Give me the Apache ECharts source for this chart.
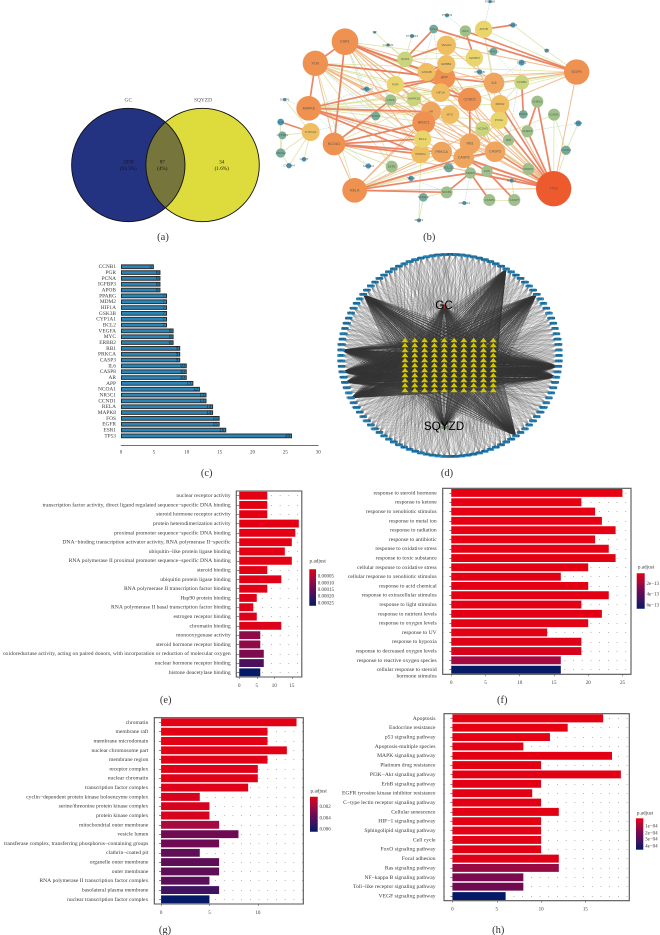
<!DOCTYPE html>
<html><head><meta charset="utf-8">
<style>html,body{margin:0;padding:0;background:#fff}#c{width:660px;height:935px;filter:blur(0.4px)}</style>
<script src="https://cdn.jsdelivr.net/npm/echarts@6/dist/echarts.min.js"></script>
</head><body><div id="c"></div>
<script>
/* ---------- panel (a) ---------- */
const vennCircles=[[128.3,165,56.7,'#243282'],[202.6,165,56.7,'#DEDB3C']];
const vennLabels=[['GC',128.3,100],['SQYZD',203,100],['2039',128.3,162],['(94.3%)',128.3,168.5],['87',162.3,162],['(4%)',162.3,168.5],['34',221.7,162],['(1.6%)',221.7,168.5]];
/* ---------- panel (b): name, x, y, radius ---------- */
const ppiNodes=[['ESR1',345,125,40],['FOS',256,190,38],['MAPK8',236,325,37],['NCOA1',312,432,34],['RELA',374,571,37],['TP53',971,566,53],['EGFR',1040,216,38],['CCND1',719,298,35],['AR',603,335,30],['NR3C1',581,368,34],['APP',643,233,33],['IL6',792,249,31],['CASP8',701,473,31],['CASP3',795,455,31],['RB1',720,431,31],['PRKCA',635,456,31],['PPARG',572,462,28],['MDM2',810,313,28],['BCL2',578,417,26],['MYC',660,344,28],['GSK3B',590,216,27],['ERBB2',649,192,27],['VEGFA',649,136,29],['IGFBP3',733,174,26],['APOB',761,88,26],['HIF1A',632,278,28],['PGR',496,254,26],['PCNA',807,361,26],['CCNB1',875,247,22],['NOS3',525,178,23],['CYP1A1',242,396,27],['MAPK10',552,296,22],['IGF2',706,93,17],['CCL2',611,87,13],['CDK6',482,300,17],['NCOA2',437,348,13],['NCOA3',758,386,22],['BID',836,420,17],['CHEK1',922,305,18],['BIRC5',880,343,13],['CHEK2',892,394,18],['ICAM1',972,344,18],['VCAM1',1008,451,14],['HSF1',1045,370,9],['PARP1',895,507,18],['CASP7',853,600,18],['CASP9',778,600,18],['FAS',771,514,17],['MMP9',721,519,17],['BCL2L1',656,503,14],['NFKB1',650,577,18],['ESR2',485,500,18],['NFE2L2',580,592,13],['SELE',543,535,8],['SLC2A4',415,498,8],['MMP1',567,661,6],['COL3A1',703,609,6],['BIRC2',845,542,6],['TNF',950,152,6],['DAPK1',875,188,9],['MDM4',849,75,8],['PRKCD',790,155,12],['PRKCB',749,216,8],['PSMB8',780,5,5],['PSMD3',651,46,6],['IL2',434,97,4],['PTGER3',546,108,6],['CHRM2',474,135,5],['GPBAR1',410,267,8],['GSTP1',164,299,5],['AHR',152,366,10],['CYP1B1',157,406,12],['ABCG2',152,459,14],['CYP3A4',177,497,8],['COMT',222,478,7]];
const ppiStrong='ESR1-FOS ESR1-NCOA1 FOS-MAPK8 RELA-NFKB1 RELA-MMP9 NFKB1-MMP9 TP53-CASP8 TP53-CASP3 TP53-MDM2 TP53-CHEK1 TP53-CHEK2 TP53-PCNA CASP8-MMP9 CASP8-FAS MMP9-CASP9 FAS-CASP7 CYP1A1-AHR APOB-MDM4 EGFR-CCL2 EGFR-IGF2 NOS3-VEGFA NOS3-CCL2 IGF2-IGFBP3 NCOA1-NR3C1 NCOA1-BCL2 NCOA1-PPARG NCOA1-CDK6 NCOA1-PRKCA CCND1-RB1 CCNB1-BIRC5 CHEK1-CHEK2 ESR1-APP ESR1-GSK3B ESR1-CCND1 FOS-APP FOS-IL6 MAPK8-PPARG MAPK8-BCL2 MAPK8-APP MAPK8-AR PGR-APP MDM2-PCNA RELA-CASP8 CASP8-CASP3 ERBB2-GSK3B CCND1-HIF1A TP53-MMP9 TP53-FAS';
const ppiMedium='ESR1-PPARG ESR1-RB1 ESR1-TP53 ESR1-CASP8 FOS-CASP3 FOS-PRKCA FOS-RB1 MAPK8-TP53 MAPK8-CASP3 EGFR-IL6 EGFR-APP EGFR-TP53 EGFR-MDM2 RELA-CASP3 RELA-PRKCA RELA-AR RELA-NR3C1 RELA-PCNA RELA-TP53 NR3C1-TP53 AR-CASP3 APP-CASP3 APP-TP53 CCND1-TP53 IL6-TP53 HIF1A-TP53 MYC-TP53 RB1-TP53 PRKCA-TP53 PCNA-CASP8 CCND1-CASP3 NCOA1-RELA FOS-NCOA1 ESR1-AR ESR1-IL6 FOS-NR3C1 FOS-MYC MAPK8-MYC NCOA1-TP53 VEGFA-APP VEGFA-IL6 IGFBP3-PCNA PGR-AR PGR-CCND1 EGFR-VEGFA GSK3B-TP53 ERBB2-CCND1';
const ppiPale='NCOA1-ESR2 FOS-PGR ESR1-MAPK10 MAPK8-HIF1A MAPK8-MDM2 MAPK8-CCND1 APOB-EGFR APOB-IL6 TNF-EGFR TNF-MDM4 VCAM1-ICAM1 VCAM1-HSF1 VCAM1-TP53 CYP1A1-CYP1B1 ABCG2-CYP1A1 CYP3A4-CYP1A1 COMT-CYP1A1 GSTP1-CYP1A1 ABCG2-CYP1B1 ABCG2-AHR ABCG2-CYP3A4 IL2-NOS3 CHRM2-NOS3 PTGER3-NOS3 SLC2A4-NCOA1 NFE2L2-MMP1 NFE2L2-NFKB1 CASP7-CASP9 BIRC2-CASP7 CCNB1-EGFR CCNB1-MDM2 ICAM1-TP53 ICAM1-RELA NCOA3-RB1 NCOA3-TP53 BID-TP53 BID-CASP8 PARP1-TP53 PARP1-CASP3 ESR2-RELA ESR2-NCOA1 ESR1-PARP1 FOS-BCL2L1 NOS3-PGR NOS3-IGFBP3 FOS-ESR2 FOS-RELA MAPK10-AR ESR1-MDM2 FOS-EGFR MAPK8-EGFR APOB-NOS3 IGF2-VEGFA APOB-PCNA EGFR-CDK6 EGFR-PGR MAPK8-NCOA3 RELA-BCL2L1 RELA-SELE PPARG-MMP1 ESR1-ESR2 ESR1-IGFBP3 ESR1-MDM2 FOS-CCND1 FOS-HIF1A MAPK8-PCNA MAPK8-IL6 NCOA1-MYC NCOA1-HIF1A NCOA1-ERBB2 ESR1-BCL2 FOS-AR EGFR-CCND1 EGFR-HIF1A';
const ppiThin='PSMB8-APOB PSMD3-IGF2 COL3A1-MMP9 GSTP1-MAPK8 CYP1A1-NCOA2 GPBAR1-MAPK8 CCL2-NOS3 FOS-GPBAR1 ESR1-GPBAR1 CCL2-MAPK10 PRKCB-IL6 DAPK1-BID PRKCD-CCNB1 NCOA2-FOS SELE-NFKB1 SLC2A4-MAPK8 DAPK1-CCND1 CCL2-HIF1A BID-CCND1 HSF1-CHEK2 FOS-NCOA2 CDK6-ESR1 ESR1-NCOA2';
/* ---------- panel (c) ---------- */
const hubGenes=['CCNB1','PGR','PCNA','IGFBP3','APOB','PPARG','MDM2','HIF1A','GSK3B','CYP1A1','BCL2','VEGFA','MYC','ERBB2','RB1','PRKCA','CASP3','IL6','CASP8','AR','APP','NCOA1','NR3C1','CCND1','RELA','MAPK8','FOS','EGFR','ESR1','TP53'];
const hubDegree=[5,6,6,6,6,7,7,7,7,7,7,8,8,8,9,9,9,10,10,10,11,12,13,13,14,14,15,15,16,26];
/* ---------- panel (d): 116 ring targets, 10x11 compound block; individual edges are
   not readable in the picture, so only the dense fans (bearings below) are taken from it ---------- */
const ringCount=116, compoundCols=10, compoundRows=11;
const denseFanBearings=[58,37,-5,-13,-54,188,196,204,143,176];
/* ---------- panel (e) ---------- */
const eTerms=['nuclear receptor activity','transcription factor activity, direct ligand regulated sequence−specific DNA binding','steroid hormone receptor activity','protein heterodimerization activity','proximal promoter sequence−specific DNA binding','DNA−binding transcription activator activity, RNA polymerase II−specific','ubiquitin−like protein ligase binding','RNA polymerase II proximal promoter sequence−specific DNA binding','steroid binding','ubiquitin protein ligase binding','RNA polymerase II transcription factor binding','Hsp90 protein binding','RNA polymerase II basal transcription factor binding','estrogen receptor binding','chromatin binding','monooxygenase activity','steroid hormone receptor binding','oxidoreductase activity, acting on paired donors, with incorporation or reduction of molecular oxygen','nuclear hormone receptor binding','histone deacetylase binding'];
const eCount=[8,8,8,17,16,15,13,15,8,12,8,5,4,5,12,6,6,7,7,6];
const eP=[.000002,.000002,.000002,.000002,.000003,.000003,.000003,.000004,.000005,.000006,.000006,.000008,.000008,.00001,.000012,.00010,.00010,.00012,.00019,.00028];
/* ---------- panel (f) ---------- */
const fTerms=['response to steroid hormone','response to ketone','response to xenobiotic stimulus','response to metal ion','response to radiation','response to antibiotic','response to oxidative stress','response to toxic substance','cellular response to oxidative stress','cellular response to xenobiotic stimulus','response to acid chemical','response to extracellular stimulus','response to light stimulus','response to nutrient levels','response to oxygen levels','response to UV','response to hypoxia','response to decreased oxygen levels','response to reactive oxygen species','\ncellular response to steroid\nhormone stimulus'];
const fCount=[25,19,21,22,24,21,23,24,20,16,20,23,19,22,20,14,19,19,16,16];
const fP=[1e-15,2e-15,2e-15,3e-15,3e-15,4e-15,4e-15,5e-15,5e-15,6e-15,6e-15,7e-15,8e-15,8e-15,1e-14,1.2e-14,2e-14,4e-14,1.8e-13,7e-13];
/* ---------- panel (g) ---------- */
const gTerms=['chromatin','membrane raft','membrane microdomain','nuclear chromosome part','membrane region','receptor complex','nuclear chromatin','transcription factor complex','cyclin−dependent protein kinase holoenzyme complex','serine/threonine protein kinase complex','protein kinase complex','mitochondrial outer membrane','vesicle lumen','transferase complex, transferring phosphorus−containing groups','clathrin−coated pit','organelle outer membrane','outer membrane','RNA polymerase II transcription factor complex','basolateral plasma membrane','nuclear transcription factor complex'];
const gCount=[14,11,11,13,11,10,10,9,4,5,5,6,8,6,4,6,6,5,6,5];
const gP=[.0001,.0001,.0001,.0001,.00015,.0002,.0002,.0002,.0004,.0004,.0004,.0017,.0034,.0034,.0039,.0040,.0040,.0041,.0050,.0068];
/* ---------- panel (h) ---------- */
const hTerms=['Apoptosis','Endocrine resistance','p53 signaling pathway','Apoptosis-multiple species','MAPK signaling pathway','Platinum drug resistance','PI3K−Akt signaling pathway','ErbB signaling pathway','EGFR tyrosine kinase inhibitor resistance','C−type lectin receptor signaling pathway','Cellular senescence','HIF−1 signaling pathway','Sphingolipid signaling pathway','Cell cycle','FoxO signaling pathway','Focal adhesion','Ras signaling pathway','NF−kappa B signaling pathway','Toll−like receptor signaling pathway','VEGF signaling pathway'];
const hCount=[17,13,11,8,18,10,19,10,9,10,12,10,10,10,10,12,12,8,8,6];
const hP=[1e-6,1e-6,2e-6,2e-6,3e-6,3e-6,4e-6,4e-6,5e-6,5e-6,6e-6,6e-6,7e-6,7e-6,8e-6,1e-5,1.4e-4,2e-4,2.2e-4,4.5e-4];

const captions=[['(a)',163,237],['(b)',429.3,237],['(c)',206.7,473],['(d)',447,473],['(e)',165.7,700],['(f)',502.3,700],['(g)',165,930],['(h)',498.3,930]];
const SERIF='"Liberation Serif",serif', INK='#3a3a3a';
const RAMP=['#E60012','#A50A40','#6F0B52','#3C1460','#041A66'];

const grids=[],xAxes=[],yAxes=[],series=[],visualMaps=[],graphics=[];
function text(t,x,y,size,align,font,col){graphics.push({type:'text',silent:true,x,y,z:50,style:{text:t,fontSize:size,fontFamily:font||SERIF,fill:col||INK,align:align||'center',verticalAlign:'middle'}});}

function hidden(l,t,w,h,xMax,yMax){grids.push({left:l,top:t,width:w,height:h,show:false});
 xAxes.push({type:'value',show:false,min:0,max:xMax,gridIndex:grids.length-1});
 yAxes.push({type:'value',show:false,min:0,max:yMax,inverse:true,gridIndex:grids.length-1});
 return grids.length-1;}

/* (a) Venn */
let gi=hidden(0,0,660,935,660,935);
series.push({type:'custom',xAxisIndex:gi,yAxisIndex:gi,silent:true,clip:false,data:vennCircles.map(c=>[c[0],c[1],c[2]]),
 encode:{x:0,y:1},
 renderItem(p,api){
  const geo=i=>{const c=vennCircles[i],q=api.coord([c[0],c[1]]);return{cx:q[0],cy:q[1],r:api.size([c[2],0])[0]};};
  const i=p.dataIndex;
  const kids=[{type:'circle',shape:geo(i),style:{fill:vennCircles[i][3]}}];
  if(i===1){
   kids.push({type:'circle',shape:geo(0),style:{fill:'#76763C'},clipPath:{type:'circle',shape:geo(1)}});
   kids.push({type:'circle',shape:geo(0),style:{fill:'none',stroke:'#111',lineWidth:.9}});
   kids.push({type:'circle',shape:geo(1),style:{fill:'none',stroke:'#111',lineWidth:.9}});
  }
  return{type:'group',children:kids};
 }});
vennLabels.forEach((l,i)=>text(l[0],l[1],l[2],i<2?5.4:5.2,'center',SERIF,i<2?'#555':'#161616'));

/* (b) PPI network */
function ppiColor(r){return r>=50?'#EC5A2E':r>=33?'#EF9150':r>=30?'#F0A55E':r>=27?'#EFBE62':r>=24?'#E9D56C':r>=20?'#C9D47C':r>=16?'#9FC08A':r>=12?'#74AB9A':'#4A98B6';}
gi=hidden(230,0,430,265,1290,795);
const ppiIndex=Object.fromEntries(ppiNodes.map((n,i)=>[n[0],i]));
const tier=(s,st)=>s.split(' ').map(e=>{const[a,b]=e.split('-');return{source:ppiIndex[a],target:ppiIndex[b],lineStyle:st};});
const ppiLinks=[...tier(ppiThin,{color:'#A7CEDC',width:.5,type:'dashed',opacity:.9}),...tier(ppiPale,{color:'#DCE4A6',width:.8,opacity:.95}),...tier(ppiMedium,{color:'#F2B584',width:1,opacity:.9}),...tier(ppiStrong,{color:'#EA7F5F',width:1.7,opacity:.95})];
series.push({type:'graph',coordinateSystem:'cartesian2d',xAxisIndex:gi,yAxisIndex:gi,layout:'none',silent:true,
 data:ppiNodes.map(n=>({id:n[0],name:n[0],value:[n[1],n[2]],symbolSize:2*n[3]/3,itemStyle:{color:ppiColor(n[3])},
   label:{show:true,position:'inside',fontSize:n[3]>30?3.6:3,color:'#5a5a52',fontFamily:'"Liberation Sans",sans-serif'}})),
 links:ppiLinks,lineStyle:{curveness:0}});

/* (c) hub-gene bars */
grids.push({left:121,top:263.8,width:197.3,height:175});gi=grids.length-1;
xAxes.push({type:'value',gridIndex:gi,min:0,max:30,interval:5,offset:6,position:'bottom',splitLine:{show:false},axisLine:{show:true,lineStyle:{color:'#444',width:.7}},axisTick:{length:2,lineStyle:{color:'#444',width:.6}},axisLabel:{fontSize:5,fontFamily:SERIF,color:INK,margin:5}});
yAxes.push({type:'category',gridIndex:gi,data:hubGenes,inverse:true,axisLine:{show:false},axisTick:{show:false},axisLabel:{interval:0,fontSize:5.4,fontFamily:SERIF,color:INK,margin:5}});
series.push({type:'bar',xAxisIndex:gi,yAxisIndex:gi,data:hubDegree,barWidth:4.7,silent:true,itemStyle:{color:'#2A85B8',borderColor:'#2f2f2f',borderWidth:1},label:{show:true,position:'insideRight',fontSize:5,fontFamily:SERIF,color:'#101c24',distance:2}});

/* (d) compound–target network */
gi=hidden(0,0,660,935,660,935);
const dCx=450,dCy=355.5,dRx=109,dRy=101;
const dNodes=[],dLinks=[];
const ringNames=ppiNodes.map(n=>n[0]);
const ring=[],block=[];
for(let i=0;i<ringCount;i++){const a=2*Math.PI*i/ringCount;ring.push({deg:a*180/Math.PI,x:dCx+dRx*Math.cos(a),y:dCy-dRy*Math.sin(a),name:ringNames[i%ringNames.length]});}
for(let r=0;r<compoundRows;r++)for(let c=0;c<compoundCols;c++)block.push({x:405+c*(88.3/(compoundCols-1)),y:340+r*(50/(compoundRows-1))});
const ringStart=block.length,gcIdx=block.length+ringCount,zdIdx=gcIdx+1;
block.forEach((b,i)=>dNodes.push({id:'b'+i,name:'M'+i,value:[b.x,b.y],symbol:'triangle',symbolSize:[7,4.4],itemStyle:{color:'#D2C700'},z:4}));
ring.forEach((n,i)=>dNodes.push({id:'r'+i,name:n.name,value:[n.x,n.y],symbol:'roundRect',symbolSize:[7.6,3],itemStyle:{color:'#2E8CC2'},
  label:{show:true,position:'inside',fontSize:2.4,color:'#0d2b3e',fontFamily:'"Liberation Sans",sans-serif'}}));
const mark=(id,name,x,y,col)=>dNodes.push({id,name,value:[x,y],symbol:'triangle',symbolSize:[5,4],itemStyle:{color:col},label:{show:true,position:'inside',fontSize:11.7,color:'#000',fontFamily:'"Liberation Sans",sans-serif'}});
mark('gc','GC',444,306,'#D40F1E');mark('zd','SQYZD',444,426.7,'#1E9A2E');
const blockEdge={color:'#333',width:.4,opacity:.75};
block.forEach((b,i)=>{dLinks.push({source:i,target:gcIdx,lineStyle:blockEdge});dLinks.push({source:i,target:zdIdx,lineStyle:blockEdge});});
const dist=(a,b)=>Math.hypot(a.x-b.x,a.y-b.y);
const fanEdge={color:'#333',width:.42,opacity:.85};
ring.forEach((n,i)=>{
 const bearing=n.deg>180?n.deg-360:n.deg;
 const dense=denseFanBearings.some(d=>Math.abs(d-bearing)<1.6||Math.abs(d-n.deg)<1.6);
 const order=block.map((b,k)=>[dist(n,b),k]).sort((p,q)=>p[0]-q[0]);
 if(dense){order.forEach(o=>dLinks.push({source:ringStart+i,target:o[1],lineStyle:fanEdge}));}
 else{for(let k=i%2;k<44;k+=2)dLinks.push({source:ringStart+i,target:order[k][1]});}
 if(n.y<dCy-20)dLinks.push({source:ringStart+i,target:gcIdx});
 if(n.y>dCy+45)dLinks.push({source:ringStart+i,target:zdIdx});
});
series.push({type:'graph',coordinateSystem:'cartesian2d',xAxisIndex:gi,yAxisIndex:gi,layout:'none',silent:true,animation:false,
 data:dNodes,links:dLinks,lineStyle:{color:'#444',width:.22,opacity:.42,curveness:0}});

/* (e)-(h) enrichment panels */
function enrich(o){
 grids.push({show:true,left:o.left,top:o.top,width:o.w,height:o.h,borderColor:'#555',borderWidth:1.1,backgroundColor:'#fff'});const g=grids.length-1;
 xAxes.push({type:'value',gridIndex:g,min:o.min,max:o.max,position:'bottom',splitLine:{show:false},axisLine:{show:false},
  axisTick:{show:true,length:2,customValues:o.ticks,lineStyle:{color:'#444',width:.5}},
  axisLabel:{customValues:o.ticks,fontSize:5,fontFamily:SERIF,color:INK,margin:6}});
 yAxes.push({type:'category',gridIndex:g,data:o.terms,inverse:true,axisLine:{show:false},
  axisTick:{show:true,length:2,alignWithLabel:true,lineStyle:{color:'#333',width:.6}},
  splitLine:{show:true,alignWithLabel:true,lineStyle:{color:'#333',width:.6,type:[.7,8]}},
  axisLabel:{interval:0,fontSize:5.6,lineHeight:6.6,fontFamily:SERIF,color:INK,margin:o.margin}});
 series.push({type:'bar',xAxisIndex:g,yAxisIndex:g,barWidth:7.9,silent:true,encode:{x:0,y:1},z:3,
   data:o.count.map((v,i)=>[v,o.terms[i],o.p[i]])});
 visualMaps.push({show:false,seriesIndex:series.length-1,dimension:2,min:0,max:o.p[o.p.length-1],inRange:{color:RAMP}});
 const L=o.key;
 graphics.push({type:'rect',silent:true,z:40,shape:{x:L.x,y:L.y,width:L.w,height:L.h},style:{fill:{type:'linear',x:0,y:0,x2:0,y2:1,colorStops:RAMP.map((c,i)=>({offset:i/4,color:c}))}}});
 text('p.adjust',L.tx,L.ty,5.2,'center');
 L.labels.forEach(t=>text(t[0],L.x+L.w+1.8,t[1],5,'left'));
}
enrich({left:233.3,top:491,w:68.5,h:186,min:-.85,max:17.85,ticks:[0,5,10,15],terms:eTerms,count:eCount,p:eP,margin:5.6,
 key:{x:309.3,y:569.3,w:6.7,h:36.4,tx:317.7,ty:561,labels:[['0.00005',576],['0.00010',583],['0.00015',589.7],['0.00020',596.3],['0.00025',603.3]]}});
enrich({left:442.7,top:488.3,w:188.3,h:186,min:-1.25,max:26.25,ticks:[0,5,10,15,20,25],terms:fTerms,count:fCount,p:fP,margin:6,
 key:{x:636.7,y:573.3,w:8,h:35.4,tx:646,ty:567,labels:[['2e−13',583.7],['4e−13',594.3],['6e−13',605]]}});
enrich({left:154.3,top:717.7,w:149,h:186.3,min:-.7,max:14.7,ticks:[0,5,10],terms:gTerms,count:gCount,p:gP,margin:6,
 key:{x:310,y:796.7,w:7.7,h:35,tx:318.7,ty:791,labels:[['0.002',806.7],['0.004',818.3],['0.006',829]]}});
enrich({left:444,top:713.7,w:185.3,h:187,min:-.95,max:19.95,ticks:[0,5,10,15],terms:hTerms,count:hCount,p:hP,margin:8.5,
 key:{x:636,y:818.3,w:7.3,h:31.4,tx:645,ty:813,labels:[['1e−04',826.3],['2e−04',833],['3e−04',839.3],['4e−04',846.3]]}});

captions.forEach(c=>text(c[0],c[1],c[2],10.5,'center',SERIF,'#333'));

const chart=echarts.init(document.getElementById('c'),null,{renderer:'canvas',devicePixelRatio:2});
chart.setOption({animation:false,backgroundColor:'#fff',tooltip:{show:false},grid:grids,xAxis:xAxes,yAxis:yAxes,series,visualMap:visualMaps,graphic:{elements:graphics}});
</script></body></html>
